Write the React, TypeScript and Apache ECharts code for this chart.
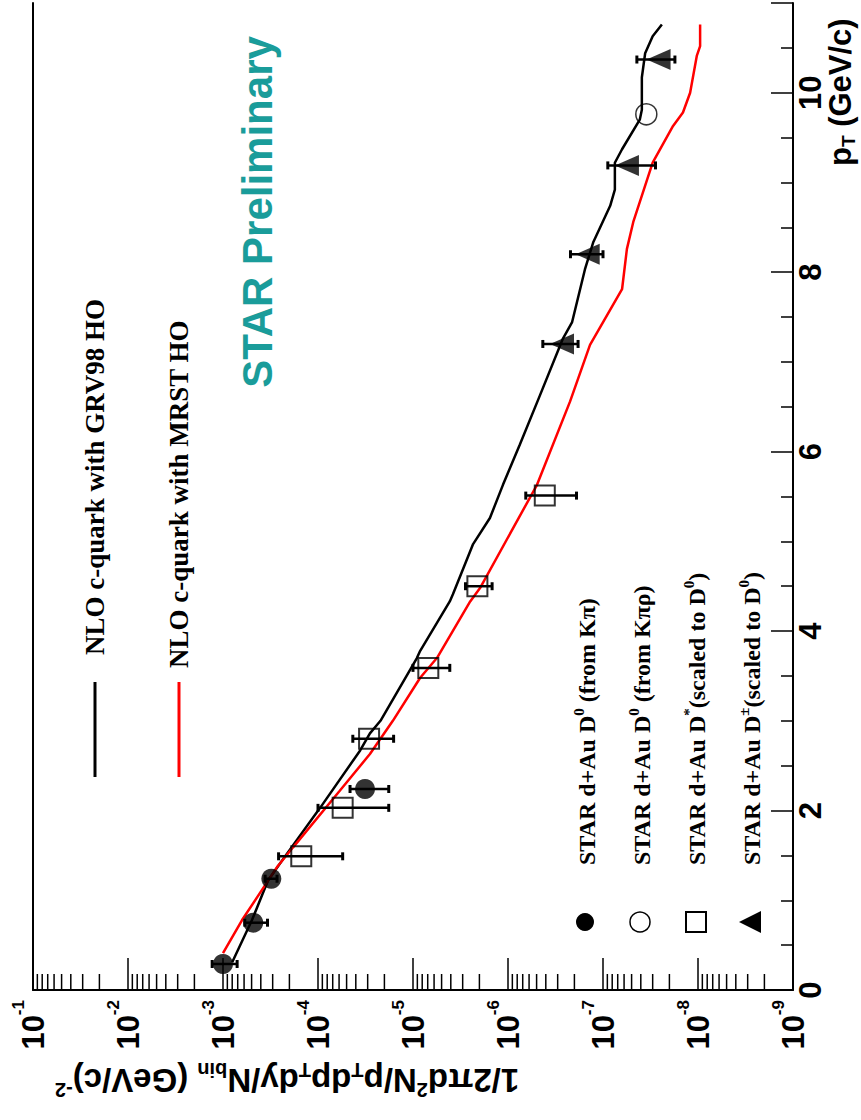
import React, { useEffect, useRef } from 'react';
import * as echarts from 'echarts';

// NLO c-quark with GRV98 HO (black)
const grvPT = [0.31, 0.78, 1.22, 1.52, 2.03, 2.67, 2.86, 3.0, 3.7, 3.78, 4.33, 4.41, 4.97, 5.26, 5.63, 6.08, 6.63, 7.26, 7.44, 8.03, 8.33, 8.74, 8.92, 9.22, 9.37, 9.7, 9.81, 10.17, 10.44, 10.63, 10.76];
const grvVal = [8.0e-4, 4.95e-4, 3.36e-4, 2.12e-4, 9.5e-5, 3.6e-5, 2.84e-5, 2.2e-5, 9.1e-6, 8.4e-6, 4.1e-6, 3.8e-6, 2.33e-6, 1.55e-6, 1.13e-6, 7.5e-7, 4.6e-7, 2.64e-7, 2.12e-7, 1.55e-7, 1.27e-7, 8.4e-8, 7.5e-8, 7.5e-8, 6.3e-8, 4.1e-8, 3.9e-8, 3.9e-8, 3.6e-8, 3.0e-8, 2.4e-8];

// NLO c-quark with MRST HO (red)
const mrstPT = [0.41, 0.78, 1.37, 1.59, 2.22, 2.63, 3.0, 3.48, 3.7, 4.33, 4.48, 5.63, 6.56, 7.19, 7.81, 8.26, 8.56, 9.22, 9.63, 9.78, 10.0, 10.41, 10.52, 10.76];
const mrstVal = [1.0e-3, 6.3e-4, 2.7e-4, 1.83e-4, 5.9e-5, 2.84e-5, 1.63e-5, 8.4e-6, 5.6e-6, 2.5e-6, 1.97e-6, 4.95e-7, 2.22e-7, 1.37e-7, 6.3e-8, 5.6e-8, 4.8e-8, 3.0e-8, 1.83e-8, 1.44e-8, 1.21e-8, 1.03e-8, 9.5e-9, 9.5e-9];

// STAR d+Au D0 (from K pi)
const d0KpiPT = [0.29, 0.75, 1.24, 2.24];
const d0KpiVal = [1.0e-3, 4.8e-4, 3.1e-4, 3.2e-5];
const d0KpiUp = [1.3e-3, 5.9e-4, 3.6e-4, 4.6e-5];
const d0KpiDn = [7.1e-4, 3.4e-4, 2.7e-4, 1.8e-5];

// STAR d+Au D0 (from K pi rho)
const d0KpirhoPT = [9.76];
const d0KpirhoVal = [3.5e-8];

// STAR d+Au D* (scaled to D0)
const dStarPT = [1.49, 2.03, 2.8, 3.59, 4.5, 5.51];
const dStarVal = [1.5e-4, 5.5e-5, 2.9e-5, 6.9e-6, 2.1e-6, 4.1e-7];
const dStarUp = [2.6e-4, 1.0e-4, 4.3e-5, 1.0e-5, 2.8e-6, 6.5e-7];
const dStarDn = [5.5e-5, 1.8e-5, 1.6e-5, 4.1e-6, 1.47e-6, 1.9e-7];

// STAR d+Au D+- (scaled to D0)
const dPmPT = [7.2, 8.2, 9.19, 10.37];
const dPmVal = [2.7e-7, 1.45e-7, 5.6e-8, 2.6e-8];
const dPmUp = [4.3e-7, 2.2e-7, 8.9e-8, 4.4e-8];
const dPmDn = [1.83e-7, 1.0e-7, 2.8e-8, 1.75e-8];

const decadeExponents = [-9, -8, -7, -6, -5, -4, -3, -2];
const minorMultipliers = [2, 3, 4, 5, 6, 7, 8, 9];

const SANS = '"Liberation Sans", Arial, Helvetica, sans-serif';
const SERIF = '"Liberation Serif", "Times New Roman", serif';

const pairs = (pt: number[], v: number[]) => pt.map((p, i) => [v[i], p]);
const errTriples = (pt: number[], up: number[], dn: number[]) => pt.map((p, i) => [up[i], p, dn[i]]);

function errorBarSeries(data: number[][]) {
  return {
    type: 'custom',
    silent: true,
    z: 3,
    clip: false,
    encode: { x: [0, 2], y: 1 },
    data,
    renderItem: (_params: any, api: any) => {
      const y = api.value(1);
      const a = api.coord([api.value(0), y]);
      const b = api.coord([api.value(2), y]);
      return {
        type: 'group',
        children: [
          { type: 'line', shape: { x1: a[0], y1: a[1], x2: b[0], y2: b[1] }, style: { stroke: '#000', lineWidth: 2.5 } },
          { type: 'rect', shape: { x: a[0] - 1.5, y: a[1] - 4, width: 3, height: 8 }, style: { fill: '#000' } },
          { type: 'rect', shape: { x: b[0] - 1.5, y: b[1] - 4, width: 3, height: 8 }, style: { fill: '#000' } },
        ],
      };
    },
  };
}

const legendRich = {
  t: { fontSize: 24, fontFamily: SERIF, fontWeight: 'bold', color: '#000', lineHeight: 32, verticalAlign: 'middle' },
  s: { fontSize: 15, fontFamily: SERIF, fontWeight: 'bold', color: '#000', lineHeight: 15, verticalAlign: 'top' },
};

function legendText(x: number, text: string) {
  return {
    type: 'text', x, y: 865, rotation: Math.PI / 2,
    style: { text, rich: legendRich, fill: '#000', textAlign: 'left', textVerticalAlign: 'middle' },
  };
}

export default function App() {
  const ref = useRef<HTMLDivElement>(null);
  useEffect(() => {
    if (!ref.current) return;
    const chart = echarts.init(ref.current, null, { renderer: 'svg' });

    const minorTicks: number[][] = [];
    decadeExponents.forEach((e) => minorMultipliers.forEach((k) => minorTicks.push([k * Math.pow(10, e), 0])));

    const option: any = {
      animation: false,
      backgroundColor: '#fff',
      grid: { left: 33, right: 68, top: 0, bottom: 130, containLabel: false },
      xAxis: {
        type: 'log',
        logBase: 10,
        min: 1e-9,
        max: 1e-1,
        inverse: true,
        position: 'bottom',
        axisLine: { show: true, lineStyle: { color: '#000', width: 2 } },
        axisTick: { show: true, inside: true, length: 32, lineStyle: { color: '#000', width: 1.5 } },
        splitLine: { show: false },
        axisLabel: {
          rotate: 90,
          margin: 10,
          color: '#000',
          formatter: (v: number) => '{b|10}{s|' + Math.round(Math.log10(v)) + '}',
          rich: {
            b: { fontSize: 31, fontWeight: 'bold', fontFamily: SANS, color: '#000', lineHeight: 46 },
            s: { fontSize: 17, fontWeight: 'bold', fontFamily: SANS, color: '#000', lineHeight: 17, verticalAlign: 'top' },
          },
        },
      },
      yAxis: [
        {
          type: 'value',
          position: 'right',
          min: 0,
          max: 11,
          interval: 2,
          axisLine: { show: true, lineStyle: { color: '#000', width: 2 } },
          axisTick: { show: true, inside: true, length: 22, lineStyle: { color: '#000', width: 1.5 } },
          minorTick: { show: true, splitNumber: 4, length: 12, lineStyle: { color: '#000', width: 1.5 } },
          splitLine: { show: false },
          axisLabel: {
            rotate: 90,
            margin: 2,
            color: '#000',
            fontSize: 31,
            fontWeight: 'bold',
            fontFamily: SANS,
            formatter: (v: number) => (v % 2 === 0 ? String(v) : ''),
          },
        },
        {
          type: 'value',
          position: 'left',
          min: 0,
          max: 11,
          axisLine: { show: true, lineStyle: { color: '#000', width: 2 } },
          axisTick: { show: false },
          axisLabel: { show: false },
          splitLine: { show: false },
        },
      ],
      series: [
        {
          type: 'custom',
          silent: true,
          clip: false,
          z: 1,
          data: minorTicks,
          encode: { x: 0, y: 1 },
          renderItem: (_p: any, api: any) => {
            const p = api.coord([api.value(0), api.value(1)]);
            return { type: 'line', shape: { x1: p[0], y1: p[1], x2: p[0], y2: p[1] - 16 }, style: { stroke: '#000', lineWidth: 1.5 } };
          },
        },
        {
          name: 'NLO c-quark with GRV98 HO',
          type: 'line',
          data: pairs(grvPT, grvVal),
          showSymbol: false,
          symbol: 'none',
          lineStyle: { color: '#000', width: 2.5 },
          z: 2,
        },
        {
          name: 'NLO c-quark with MRST HO',
          type: 'line',
          data: pairs(mrstPT, mrstVal),
          showSymbol: false,
          symbol: 'none',
          lineStyle: { color: '#ff0000', width: 2.5 },
          z: 2,
        },
        errorBarSeries(errTriples(d0KpiPT, d0KpiUp, d0KpiDn)),
        errorBarSeries(errTriples(dStarPT, dStarUp, dStarDn)),
        errorBarSeries(errTriples(dPmPT, dPmUp, dPmDn)),
        {
          name: 'STAR d+Au D0 (from Kπ)',
          type: 'scatter',
          data: pairs(d0KpiPT, d0KpiVal),
          symbol: 'circle',
          symbolSize: 20,
          itemStyle: { color: '#000' },
          z: 4,
        },
        {
          name: 'STAR d+Au D0 (from Kπρ)',
          type: 'scatter',
          data: pairs(d0KpirhoPT, d0KpirhoVal),
          symbol: 'circle',
          symbolSize: 21,
          itemStyle: { color: 'rgba(0,0,0,0)', borderColor: '#000', borderWidth: 1.5 },
          z: 4,
        },
        {
          name: 'STAR d+Au D* (scaled to D0)',
          type: 'scatter',
          data: pairs(dStarPT, dStarVal),
          symbol: 'rect',
          symbolSize: 20,
          itemStyle: { color: 'rgba(0,0,0,0)', borderColor: '#000', borderWidth: 2 },
          z: 4,
        },
        {
          name: 'STAR d+Au D± (scaled to D0)',
          type: 'scatter',
          data: pairs(dPmPT, dPmVal),
          symbol: 'triangle',
          symbolSize: [21, 24],
          symbolRotate: 90,
          itemStyle: { color: '#000' },
          z: 4,
        },
      ],
      graphic: [
        // curve legend
        { type: 'line', shape: { x1: 95, y1: 682, x2: 95, y2: 777 }, style: { stroke: '#000', lineWidth: 3 } },
        { type: 'line', shape: { x1: 179, y1: 682, x2: 179, y2: 777 }, style: { stroke: '#ff0000', lineWidth: 3 } },
        {
          type: 'text', x: 95, y: 655, rotation: Math.PI / 2,
          style: { text: 'NLO c-quark with GRV98 HO', fontSize: 27, fontFamily: SERIF, fontWeight: 'bold', fill: '#000', textAlign: 'left', textVerticalAlign: 'middle' },
        },
        {
          type: 'text', x: 179, y: 668, rotation: Math.PI / 2,
          style: { text: 'NLO c-quark with MRST HO', fontSize: 27, fontFamily: SERIF, fontWeight: 'bold', fill: '#000', textAlign: 'left', textVerticalAlign: 'middle' },
        },
        // marker legend
        { type: 'circle', shape: { cx: 585, cy: 922, r: 9 }, style: { fill: '#000' } },
        { type: 'circle', shape: { cx: 640, cy: 922, r: 10 }, style: { fill: 'none', stroke: '#000', lineWidth: 1.5 } },
        { type: 'rect', shape: { x: 686, y: 912, width: 20, height: 20 }, style: { fill: 'none', stroke: '#000', lineWidth: 2 } },
        { type: 'polygon', shape: { points: [[739, 922], [761, 911], [761, 933]] }, style: { fill: '#000' } },
        legendText(587, '{t|STAR d+Au D}{s|0}{t| (from Kπ)}'),
        legendText(642, '{t|STAR d+Au D}{s|0}{t| (from Kπρ)}'),
        legendText(697, '{t|STAR d+Au D}{s|*}{t|(scaled to D}{s|0}{t|)}'),
        legendText(752, '{t|STAR d+Au D}{s|±}{t|(scaled to D}{s|0}{t|)}'),
        // STAR Preliminary
        {
          type: 'text', x: 257, y: 212, rotation: Math.PI / 2,
          style: { text: 'STAR Preliminary', fontSize: 42, fontFamily: SANS, fontWeight: 'bold', fill: '#1a9c9a', textAlign: 'center', textVerticalAlign: 'middle' },
        },
        // pT axis title
        {
          type: 'text', x: 840, y: 166, rotation: Math.PI / 2,
          style: {
            text: '{m|p}{sub|T}{m| (GeV/c)}',
            fill: '#000',
            textAlign: 'left',
            textVerticalAlign: 'middle',
            rich: {
              m: { fontSize: 31, fontWeight: 'bold', fontFamily: SANS, color: '#000', lineHeight: 36, verticalAlign: 'middle' },
              sub: { fontSize: 19, fontWeight: 'bold', fontFamily: SANS, color: '#000', lineHeight: 19, verticalAlign: 'bottom' },
            },
          },
        },
        // y axis title (upside down)
        {
          type: 'text', x: 287, y: 1080, rotation: Math.PI,
          style: {
            text: '{m|1/2πd}{sup|2}{m|N/p}{sub|T}{m|dp}{sub|T}{m|dy/N}{sub|bin}{m| (GeV/c)}{sup|-2}',
            fill: '#000',
            textAlign: 'center',
            textVerticalAlign: 'middle',
            rich: {
              m: { fontSize: 33, fontWeight: 'bold', fontFamily: SANS, color: '#000', lineHeight: 40, verticalAlign: 'middle' },
              sup: { fontSize: 20, fontWeight: 'bold', fontFamily: SANS, color: '#000', lineHeight: 20, verticalAlign: 'top' },
              sub: { fontSize: 20, fontWeight: 'bold', fontFamily: SANS, color: '#000', lineHeight: 20, verticalAlign: 'bottom' },
            },
          },
        },
      ],
    };

    chart.setOption(option);
    return () => chart.dispose();
  }, []);

  return <div ref={ref} style={{ position: 'absolute', left: 0, top: 0, width: 861, height: 1120 }} />;
}
